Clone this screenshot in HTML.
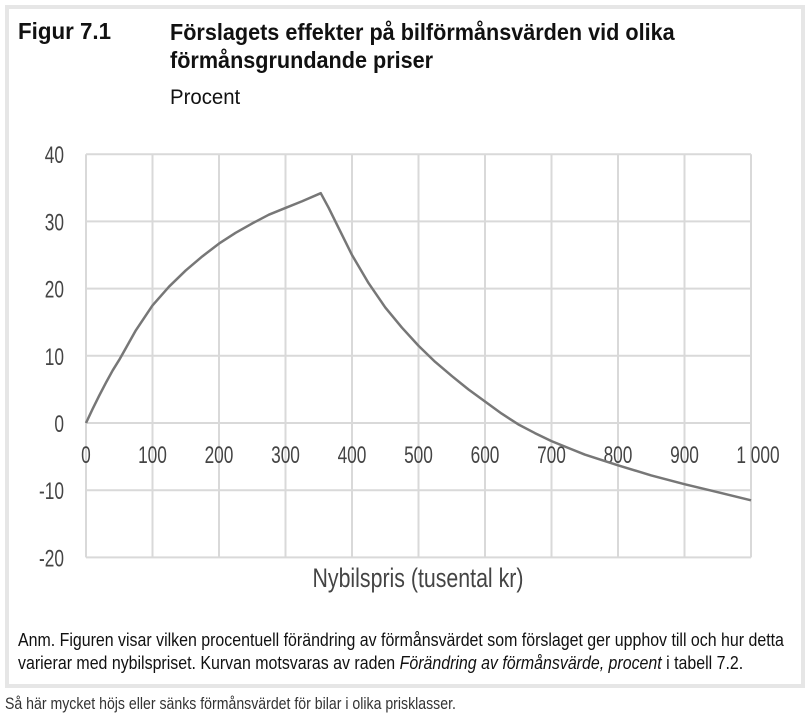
<!DOCTYPE html>
<html><head><meta charset="utf-8"><style>
body{margin:0;width:810px;height:717px;background:#fff;font-family:"Liberation Sans",sans-serif;overflow:hidden;position:relative}
.box{position:absolute;left:5px;top:5px;width:792px;height:675px;border:4px solid #e6e6e6;background:#fff}
.t{position:absolute;color:#111;white-space:nowrap;transform-origin:0 0}
</style></head><body>
<div class="box"></div>
<div class="t" style="left:18px;top:18px;font-size:23px;font-weight:bold;transform:scaleX(0.97)">Figur 7.1</div>
<div class="t" style="left:170px;top:18px;font-size:23px;font-weight:bold;line-height:28px;transform:scaleX(0.94)">Förslagets effekter på bilförmånsvärden vid olika<br>förmånsgrundande priser</div>
<div class="t" style="left:170px;top:86px;font-size:21px;transform:scaleX(0.97)">Procent</div>
<svg id="chart" width="810" height="600" style="position:absolute;left:0;top:0"></svg>
<div class="t" style="left:18px;top:629px;font-size:18px;line-height:23px;transform:scaleX(0.885)">Anm. Figuren visar vilken procentuell förändring av förmånsvärdet som förslaget ger upphov till och hur detta<br>varierar med nybilspriset. Kurvan motsvaras av raden <i>Förändring av förmånsvärde, procent</i> i tabell 7.2.</div>
<div class="t" style="left:5px;top:694px;font-size:17px;color:#333;transform:scaleX(0.83)">Så här mycket höjs eller sänks förmånsvärdet för bilar i olika prisklasser.</div>
<script>
const xTicks=[0,100,200,300,400,500,600,700,800,900,1000];
const xTickLabels=["0","100","200","300","400","500","600","700","800","900","1 000"];
const yTicks=[40,30,20,10,0,-10,-20];
const priceX=[0,10,20,30,40,50,75,100,125,150,175,200,225,250,275,300,325,353,365,375,390,400,425,450,475,500,525,550,575,600,625,650,675,700,725,750,775,800,850,900,950,1000];
const changeY=[0,2.1,4.1,6,7.8,9.4,13.8,17.5,20.3,22.7,24.8,26.7,28.3,29.7,31,32,33,34.2,32,30,27,25,20.8,17.2,14.2,11.5,9.1,7,5,3.2,1.4,-0.2,-1.5,-2.7,-3.7,-4.7,-5.5,-6.3,-7.8,-9.1,-10.3,-11.5];
const ns="http://www.w3.org/2000/svg",svg=document.getElementById('chart');
const X=v=>86+v*0.665, Y=v=>423-v*6.72;
function mk(t,a){const e=document.createElementNS(ns,t);for(const k in a)e.setAttribute(k,a[k]);svg.appendChild(e);return e;}
yTicks.forEach(v=>{const l=mk('line',{x1:X(0),x2:X(1000),y1:Y(v),y2:Y(v),stroke:'#d9d9d9','stroke-width':2});


const t=mk('text',{x:64,y:Y(v)+9,'text-anchor':'end','font-size':24,fill:'#444','font-family':'Liberation Sans',transform:`translate(64 0) scale(0.72 1) translate(-64 0)`});t.textContent=v;

});
xTicks.forEach((v,i)=>{const l=mk('line',{x1:X(v),x2:X(v),y1:Y(40),y2:Y(-20),stroke:'#d9d9d9','stroke-width':2});


const cx=X(v)+(v===1000?7:0);const t=mk('text',{x:cx,y:Y(0)+40,'text-anchor':'middle','font-size':24,fill:'#444','font-family':'Liberation Sans',transform:`translate(${cx} 0) scale(0.72 1) translate(${-cx} 0)`});t.textContent=xTickLabels[i];

});
const at=mk('text',{x:418,y:587,'text-anchor':'middle','font-size':27,fill:'#444','font-family':'Liberation Sans',transform:'translate(418 0) scale(0.79 1) translate(-418 0)'});at.textContent='Nybilspris (tusental kr)';


const p=mk('polyline',{points:priceX.map((v,i)=>X(v)+','+Y(changeY[i])).join(' '),fill:'none',stroke:'#777','stroke-width':2.5,'stroke-linejoin':'round'});


</script>
</body></html>
